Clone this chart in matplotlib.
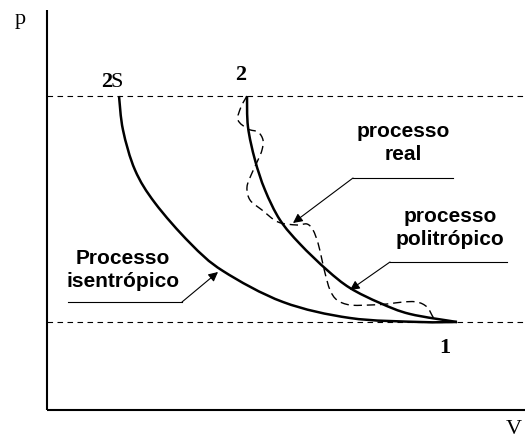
import numpy as np
import matplotlib
matplotlib.use('Agg')
import matplotlib.pyplot as plt
from matplotlib.path import Path
from matplotlib.patches import PathPatch

# diagram traced in pixel space (x to the right, y downwards)
isentropic_x = [119, 123, 135, 155, 190, 223, 283, 350, 420, 457]
isentropic_y = [96, 130, 170, 203, 243, 271, 302, 318, 322, 322]

polytropic_x = [247, 248, 255, 265, 280, 300, 327, 350, 380, 410, 457]
polytropic_y = [96, 127, 160, 190, 220, 244, 270, 288, 303, 314, 322]

real_x = [247, 241, 238, 248, 258, 263, 262, 258, 252, 247, 250, 262, 278, 297,
          307, 313, 318, 322, 325, 330, 337, 350, 370, 387, 403, 417, 427, 433, 437]
real_y = [96, 107, 120, 129, 132, 140, 150, 160, 173, 187, 200, 210, 222, 225,
          224, 230, 243, 260, 273, 290, 300, 305, 305, 304, 302, 302, 307, 317, 322]

p_high, p_low = 96, 322

# leaders: (line start, elbow, arrow tip)
leaders = {
    'real': [(453, 178), (353, 178), (293, 223)],
    'politropico': [(507, 262), (390, 262), (350, 290)],
    'isentropico': [(68, 302), (182, 302), (218, 272)],
}


def smooth_path(xs, ys):
    # catmull-rom through the traced points, drawn as cubic bezier segments
    pts = np.column_stack([xs, ys]).astype(float)
    verts = [pts[0]]
    codes = [Path.MOVETO]
    for i in range(len(pts) - 1):
        p0 = pts[i - 1] if i > 0 else pts[i]
        p1, p2 = pts[i], pts[i + 1]
        p3 = pts[i + 2] if i + 2 < len(pts) else pts[i + 1]
        c1 = p1 + (p2 - p0) / 6.0
        c2 = p2 - (p3 - p1) / 6.0
        verts += [c1, c2, p2]
        codes += [Path.CURVE4] * 3
    return Path(verts, codes)


fig = plt.figure(figsize=(5.25, 4.41), dpi=100)
ax = fig.add_axes([0, 0, 1, 1])
ax.set_xlim(0, 525)
ax.set_ylim(441, 0)
ax.axis('off')

# axes of the diagram
ax.plot([47, 47], [10, 410], color='k', lw=1.5, solid_capstyle='butt')
ax.plot([47, 525], [410, 410], color='k', lw=1.5, solid_capstyle='butt')

# pressure levels
for yy in (p_high, p_low):
    ax.plot([47, 525], [yy, yy], color='k', lw=0.8, linestyle=(0, (5, 4)))

ax.add_patch(PathPatch(smooth_path(isentropic_x, isentropic_y), fill=False,
                       lw=1.8, edgecolor='k', capstyle='butt'))
ax.add_patch(PathPatch(smooth_path(polytropic_x, polytropic_y), fill=False,
                       lw=1.8, edgecolor='k', capstyle='butt'))
ax.add_patch(PathPatch(smooth_path(real_x, real_y), fill=False,
                       lw=1.0, edgecolor='k', linestyle=(0, (6, 3.5))))

for start, elbow, tip in leaders.values():
    ax.plot([start[0], elbow[0]], [start[1], elbow[1]], color='k', lw=0.8)
    ax.annotate('', xy=tip, xytext=elbow,
                arrowprops=dict(arrowstyle='-|>', color='k', lw=0.8,
                                mutation_scale=14, shrinkA=0, shrinkB=0))

sans = dict(family='Liberation Sans', fontweight='bold', fontsize=15,
            ha='center', va='center', linespacing=1.3)
ax.text(403, 143, 'processo\nreal', **sans)
ax.text(450, 228, 'processo\npolitrópico', **sans)
ax.text(123, 270, 'Processo\nisentrópico', **sans)

serif = dict(family='Liberation Serif', fontsize=16, va='baseline')
ax.text(101, 87, '2', fontweight='bold', ha='left', **serif)
ax.text(111, 87, 'S', ha='left', **serif)
ax.text(241, 80, '2', fontweight='bold', ha='center', **serif)
ax.text(445, 353, '1', fontweight='bold', ha='center', **serif)
ax.text(20, 24, 'p', ha='center', **serif)
ax.text(514, 439, 'V', ha='center', family='Liberation Serif', fontsize=16,
        va='bottom')

fig.savefig('out.png', dpi=100)
